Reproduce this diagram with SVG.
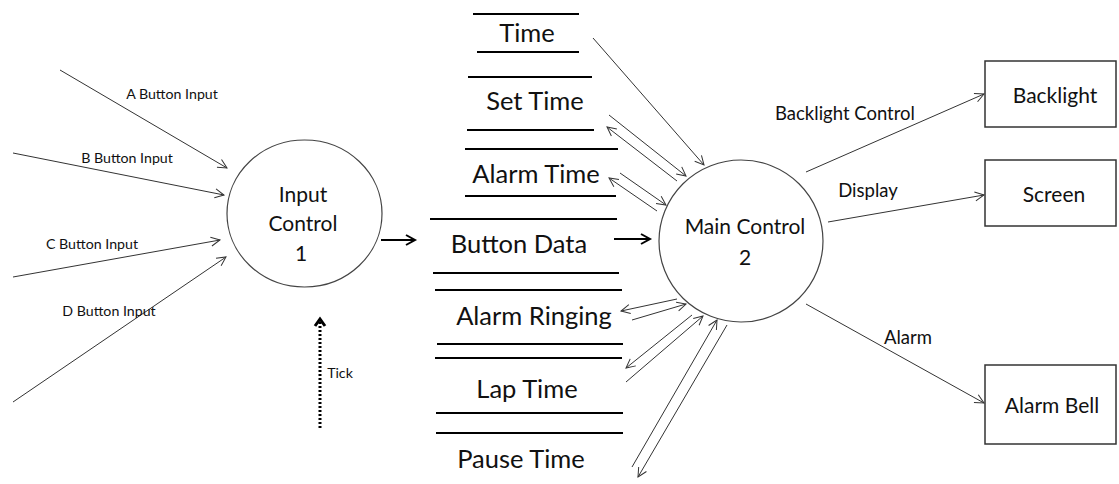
<svg xmlns="http://www.w3.org/2000/svg" width="1119" height="484" viewBox="0 0 1119 484">
<style>
text{font-family:Lato,"Liberation Sans",sans-serif;fill:#111;text-anchor:middle;dominant-baseline:central}
.sm{font-size:14.2px}
.md{font-size:18.5px}
.lg{font-size:21px}
.st{font-size:25.5px}
.proc{fill:#fff;stroke:#444;stroke-width:1.2}
.box{fill:#fff;stroke:#333;stroke-width:1.5}
.sl{stroke:#000;stroke-width:2}
.c{stroke:#333;stroke-width:1;fill:none;marker-end:url(#a)}
.t{stroke:#000;stroke-width:2;fill:none;marker-end:url(#b)}
</style>
<defs>
<marker id="a" markerUnits="userSpaceOnUse" markerWidth="20" markerHeight="20" viewBox="-10 -10 20 20" refX="0" refY="0" orient="auto">
<path d="M-9,-4.5 L0,0 L-9,4.5" fill="none" stroke="#333" stroke-width="1"/>
</marker>
<marker id="b" markerUnits="userSpaceOnUse" markerWidth="20" markerHeight="20" viewBox="-10 -10 20 20" refX="0" refY="0" orient="auto">
<path d="M-9,-5 L0,0 L-9,5" fill="none" stroke="#000" stroke-width="2"/>
</marker>
<marker id="k" markerUnits="userSpaceOnUse" markerWidth="20" markerHeight="20" viewBox="-10 -10 20 20" refX="0" refY="0" orient="auto">
<path d="M-7,-5 L0,0 L-7,5" fill="none" stroke="#000" stroke-width="3"/>
</marker>
</defs>

<g id="connectors">
<line class="c" x1="60" y1="70" x2="227" y2="168"/>
<line class="c" x1="13" y1="153" x2="224" y2="195"/>
<line class="c" x1="13" y1="277" x2="220" y2="240"/>
<line class="c" x1="13" y1="402" x2="226" y2="257"/>
<line class="t" x1="381" y1="240" x2="415" y2="240"/>
<line x1="320" y1="428" x2="320" y2="319" stroke="#000" stroke-width="3" stroke-dasharray="2 2" marker-end="url(#k)"/>
<line class="t" x1="614" y1="239" x2="650" y2="239"/>
<line class="c" x1="593" y1="38" x2="704" y2="165"/>
<line class="c" x1="609" y1="115" x2="686" y2="176"/>
<line class="c" x1="677" y1="181" x2="607" y2="127"/>
<line class="c" x1="620" y1="173" x2="666" y2="205"/>
<line class="c" x1="657" y1="211" x2="609" y2="178"/>
<line class="c" x1="677" y1="299" x2="621" y2="311"/>
<line class="c" x1="632" y1="320" x2="686" y2="304"/>
<line class="c" x1="692" y1="315" x2="626" y2="368"/>
<line class="c" x1="626" y1="382" x2="703" y2="316"/>
<line class="c" x1="632" y1="467" x2="717" y2="320"/>
<line class="c" x1="727" y1="325" x2="638" y2="477"/>
<line class="c" x1="806" y1="172" x2="984" y2="94"/>
<line class="c" x1="828" y1="222" x2="984" y2="195"/>
<line class="c" x1="806" y1="304" x2="984" y2="403"/>
<text class="sm" x="172" y="93">A Button Input</text>
<text class="sm" x="127" y="157">B Button Input</text>
<text class="sm" x="92" y="243">C Button Input</text>
<text class="sm" x="109" y="310">D Button Input</text>
<text class="sm" x="340" y="372">Tick</text>
<text class="md" x="845" y="113">Backlight Control</text>
<text class="md" x="868" y="190">Display</text>
<text class="md" x="908" y="337">Alarm</text>
</g>

<g id="input-control">
<ellipse class="proc" cx="304.5" cy="213.5" rx="77.5" ry="73.5"/>
<text class="lg" x="303" y="193">Input</text>
<text class="lg" x="303" y="222">Control</text>
<text class="lg" x="301" y="252">1</text>
</g>

<g id="main-control">
<ellipse class="proc" cx="741" cy="241" rx="82" ry="81"/>
<text class="lg" x="745" y="225">Main Control</text>
<text class="lg" x="745" y="256">2</text>
</g>

<g id="store-time">
<line class="sl" x1="473" y1="14" x2="579" y2="14"/>
<line class="sl" x1="477" y1="52" x2="579" y2="52"/>
<text class="st" x="527" y="32">Time</text>
</g>
<g id="store-set-time">
<line class="sl" x1="468" y1="77" x2="592" y2="77"/>
<line class="sl" x1="467" y1="130" x2="594" y2="130"/>
<text class="st" x="535" y="100">Set Time</text>
</g>
<g id="store-alarm-time">
<line class="sl" x1="465" y1="149" x2="618" y2="149"/>
<line class="sl" x1="465" y1="196" x2="616" y2="196"/>
<text class="st" x="536" y="173">Alarm Time</text>
</g>
<g id="store-button-data">
<line class="sl" x1="430" y1="219" x2="617" y2="219"/>
<line class="sl" x1="433" y1="273" x2="619" y2="273"/>
<text class="st" x="519" y="243">Button Data</text>
</g>
<g id="store-alarm-ringing">
<line class="sl" x1="435" y1="290" x2="622" y2="290"/>
<line class="sl" x1="437" y1="344" x2="623" y2="344"/>
<text class="st" x="534" y="315">Alarm Ringing</text>
</g>
<g id="store-lap-time">
<line class="sl" x1="435" y1="358" x2="622" y2="358"/>
<line class="sl" x1="436" y1="413" x2="623" y2="413"/>
<text class="st" x="527" y="388">Lap Time</text>
</g>
<g id="store-pause-time">
<line class="sl" x1="436" y1="433" x2="623" y2="433"/>
<text class="st" x="521" y="458">Pause Time</text>
</g>

<g id="backlight">
<rect class="box" x="985" y="61" width="131" height="66"/>
<text class="lg" x="1055" y="94">Backlight</text>
</g>
<g id="screen">
<rect class="box" x="985" y="160" width="131" height="66"/>
<text class="lg" x="1054" y="193">Screen</text>
</g>
<g id="alarm-bell">
<rect class="box" x="985" y="365" width="131" height="79"/>
<text class="lg" x="1052" y="404">Alarm Bell</text>
</g>
</svg>
